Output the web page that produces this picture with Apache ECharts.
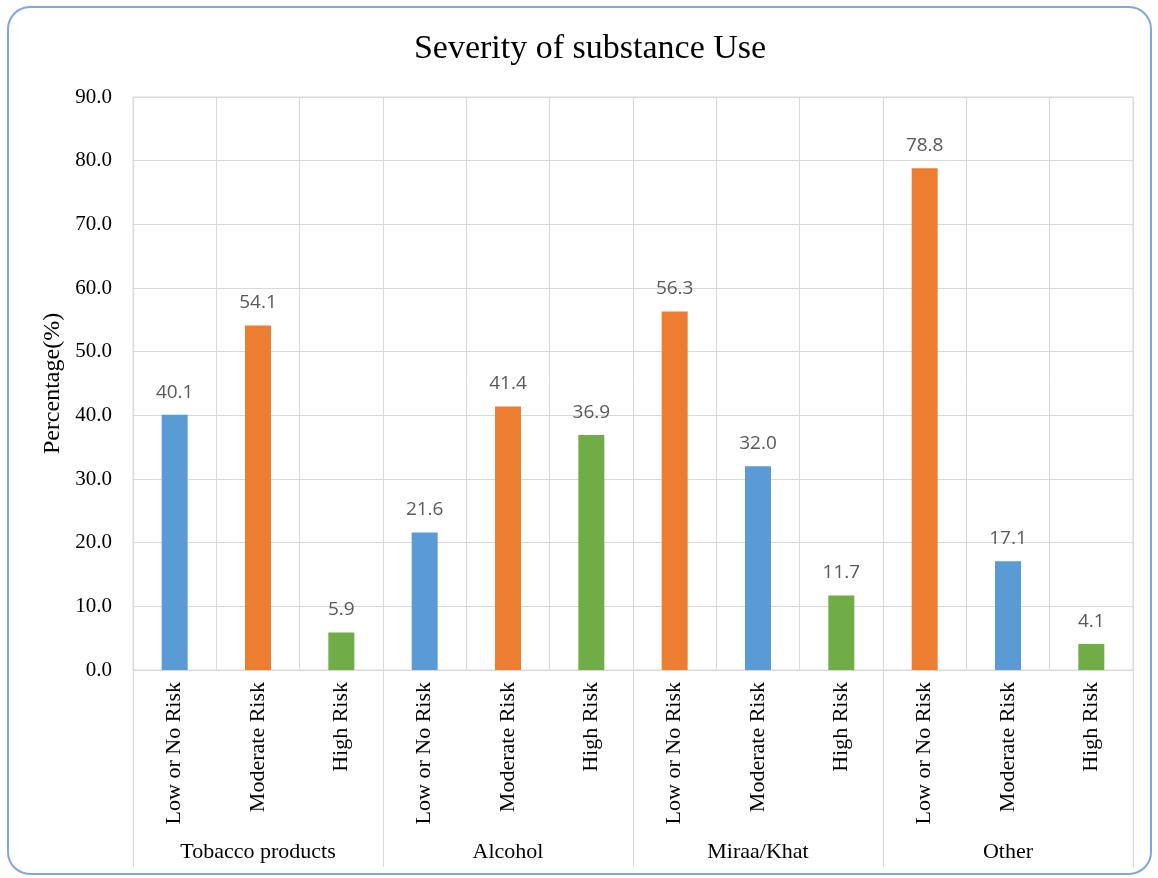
<!DOCTYPE html>
<html>
<head>
<meta charset="utf-8">
<title>Severity of substance Use</title>
<script src="https://cdn.jsdelivr.net/npm/echarts@6/dist/echarts.min.js"></script>
<style>
  html, body { margin: 0; padding: 0; background: #ffffff; }
  #chart { width: 1158px; height: 878px; }
</style>
</head>
<body>
<div id="chart"></div>
<script>
// Risk level under each substance, left to right
const riskLevels = [
  'Low or No Risk', 'Moderate Risk', 'High Risk',
  'Low or No Risk', 'Moderate Risk', 'High Risk',
  'Low or No Risk', 'Moderate Risk', 'High Risk',
  'Low or No Risk', 'Moderate Risk', 'High Risk'
];
// Substance groups, three risk levels each
const substances = ['Tobacco products', 'Alcohol', 'Miraa/Khat', 'Other'];

// Percentages per bar, split by the colour series they belong to ('-' = no bar)
const blueValues   = [40.1, '-', '-', 21.6, '-', '-', '-', 32.0, '-', '-', 17.1, '-'];
const orangeValues = ['-', 54.1, '-', '-', 41.4, '-', 56.3, '-', '-', 78.8, '-', '-'];
const greenValues  = ['-', '-', 5.9, '-', '-', 36.9, '-', '-', 11.7, '-', '-', 4.1];

// Y axis range
const yMin = 0, yMax = 90, yStep = 10;

const serif = '"Liberation Serif", "Times New Roman", serif';
const gridGray = '#d9d9d9';

function barSeries(name, values, color) {
  return {
    name: name,
    type: 'bar',
    stack: 'bars',
    xAxisIndex: 0,
    barWidth: 26,
    data: values,
    itemStyle: { color: color },
    label: {
      show: true,
      position: 'top',
      distance: 13,
      fontFamily: '"Open Sans", "Liberation Sans", sans-serif',
      fontSize: 19,
      color: '#595959',
      formatter: p => (typeof p.value === 'number' ? p.value.toFixed(1) : '')
    }
  };
}

const chart = echarts.init(document.getElementById('chart'), null, { renderer: 'canvas' });

chart.setOption({
  animation: false,
  backgroundColor: '#ffffff',
  title: {
    text: 'Severity of substance Use',
    left: 585,
    textAlign: 'center',
    top: 27,
    textStyle: { fontFamily: serif, fontSize: 34, fontWeight: 'normal', color: '#000000' }
  },
  graphic: [{
    type: 'rect',
    shape: { x: 8, y: 7, width: 1143, height: 867, r: 22 },
    style: { fill: 'none', stroke: '#7fa8d8', lineWidth: 2 },
    silent: true,
    z: 100
  }],
  grid: {
    left: 133, right: 25, top: 97, bottom: 208,
    show: true, borderColor: gridGray, borderWidth: 1
  },
  xAxis: [
    {
      type: 'category',
      data: riskLevels,
      position: 'bottom',
      axisLine: { show: true, lineStyle: { color: gridGray, width: 1 } },
      axisTick: { show: false },
      splitLine: { show: true, interval: 0, lineStyle: { color: gridGray, width: 1 } },
      axisLabel: {
        interval: 0,
        rotate: 90,
        margin: 12,
        fontFamily: serif,
        fontSize: 22,
        color: '#000000'
      }
    },
    {
      type: 'category',
      data: substances,
      position: 'bottom',
      axisLine: { show: false },
      axisTick: { show: true, interval: 0, length: 197, lineStyle: { color: gridGray, width: 1 } },
      splitLine: { show: false },
      axisLabel: {
        interval: 0,
        margin: 171,
        fontFamily: serif,
        fontSize: 22,
        color: '#000000'
      }
    }
  ],
  yAxis: {
    type: 'value',
    min: yMin,
    max: yMax,
    interval: yStep,
    name: 'Percentage(%)',
    nameLocation: 'middle',
    nameGap: 64,
    nameTextStyle: { fontFamily: serif, fontSize: 24, color: '#000000' },
    axisLine: { show: false },
    axisTick: { show: false },
    splitLine: { show: true, lineStyle: { color: gridGray, width: 1 } },
    axisLabel: {
      margin: 21,
      fontFamily: serif,
      fontSize: 21,
      color: '#000000',
      formatter: v => v.toFixed(1)
    }
  },
  series: [
    barSeries('Blue', blueValues, '#5b9bd5'),
    barSeries('Orange', orangeValues, '#ed7d31'),
    barSeries('Green', greenValues, '#70ad47')
  ]
});
</script>
</body>
</html>
